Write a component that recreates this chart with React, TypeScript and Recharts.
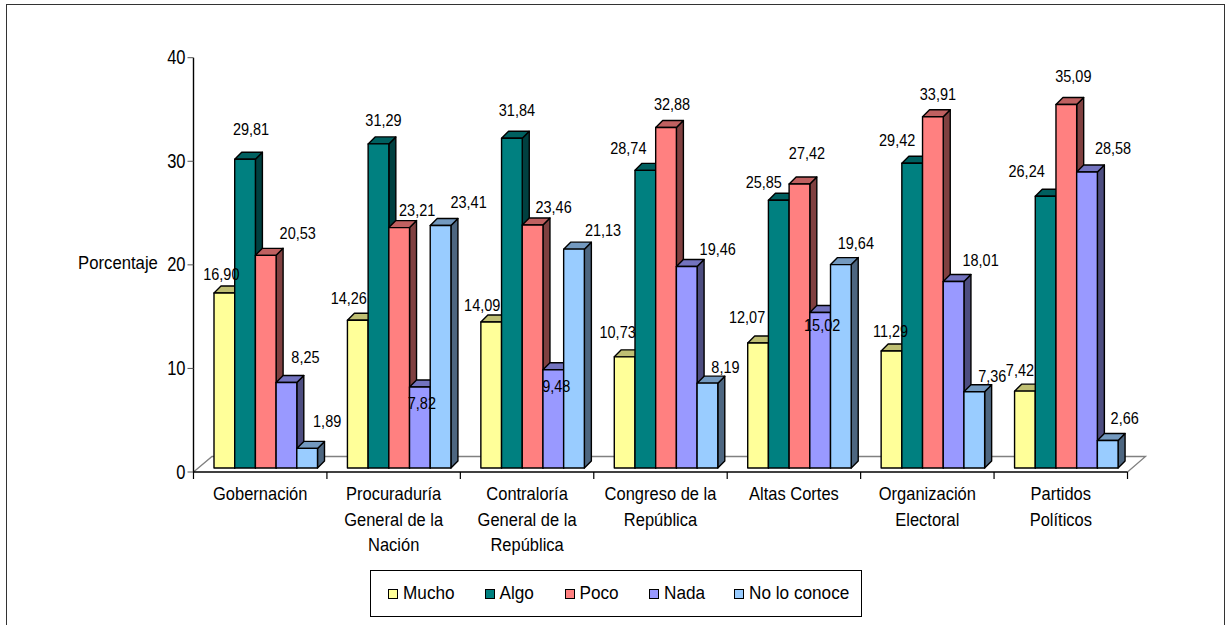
import { BarChart, Bar, XAxis, YAxis, Legend, LabelList, Label } from 'recharts'

const categories = [
  ['Gobernación'],
  ['Procuraduría', 'General de la', 'Nación'],
  ['Contraloría', 'General de la', 'República'],
  ['Congreso de la', 'República'],
  ['Altas Cortes'],
  ['Organización', 'Electoral'],
  ['Partidos', 'Políticos'],
]
const mucho = [16.9, 14.26, 14.09, 10.73, 12.07, 11.29, 7.42]
const algo = [29.81, 31.29, 31.84, 28.74, 25.85, 29.42, 26.24]
const poco = [20.53, 23.21, 23.46, 32.88, 27.42, 33.91, 35.09]
const nada = [8.25, 7.82, 9.48, 19.46, 15.02, 18.01, 28.58]
const noConoce = [1.89, 23.41, 21.13, 8.19, 19.64, 7.36, 2.66]
const yTicks = [0, 10, 20, 30, 40]

const data = categories.map((lines, i) => ({
  name: lines.join(' '),
  mucho: mucho[i],
  algo: algo[i],
  poco: poco[i],
  nada: nada[i],
  noConoce: noConoce[i],
}))

// label nudges from the top of each bar, the original has them moved around by hand
const nudges: Record<string, number[][]> = {
  mucho: [[-3, -19], [-9, -22], [-9, -17], [-7, -25], [-11, -26], [-1, -20], [-5, -21]],
  algo: [[6, -30], [5, -24], [5, -28], [-17, -22], [-15, -18], [-15, -23], [-19, -25]],
  poco: [[32, -22], [18, -18], [21, -18], [6, -23], [7.5, -31], [5, -23], [7, -28.5]],
  nada: [[19, -25], [2, 16], [3, 16], [31, -17], [2, 13], [27, -21], [26, -24]],
  noConoce: [[20, -27], [28, -23.5], [29, -19], [18, -16], [15, -22], [18, -16], [17, -22]],
}

const series = [
  { key: 'mucho', name: 'Mucho', fill: '#FFFF99', top: '#BFBF73', side: '#80804D' },
  { key: 'algo', name: 'Algo', fill: '#008080', top: '#006060', side: '#004040' },
  { key: 'poco', name: 'Poco', fill: '#FF8080', top: '#BF6060', side: '#804040' },
  { key: 'nada', name: 'Nada', fill: '#9999FF', top: '#7373BF', side: '#4D4D80' },
  { key: 'noConoce', name: 'No lo conoce', fill: '#99CCFF', top: '#7399BF', side: '#4D6680' },
]
const legendWidths = [96.5, 80, 84.5, 85, 120]

const BAND = 133.45
const SHIFT_X = 5.5
const SHIFT_Y = -4
const DEPTH = 7

// the original text is a bit taller than it is wide
function Tall({ x, y, size, sy, anchor = 'middle', children }: any) {
  return (
    <text
      transform={`translate(${x},${y}) scale(1,${sy})`}
      textAnchor={anchor}
      dominantBaseline="central"
      fontSize={size}
      fill="#000"
    >
      {children}
    </text>
  )
}

function Bar3D(props: any, top: string, side: string) {
  const x = props.x + SHIFT_X
  const y = props.y + SHIFT_Y
  const { width: w, height: h, fill } = props
  return (
    <g stroke="#000" strokeWidth={1.4} strokeLinejoin="round">
      <path d={`M${x + w},${y} l${DEPTH},${-DEPTH} v${h} l${-DEPTH},${DEPTH} z`} fill={side} />
      <path d={`M${x},${y} l${DEPTH},${-DEPTH} h${w} l${-DEPTH},${DEPTH} z`} fill={top} />
      <rect x={x} y={y} width={w} height={h} fill={fill} />
    </g>
  )
}

function ValueLabel(props: any, key: string) {
  const { x, y, width, value, index } = props
  const [dx, dy] = nudges[key][index]
  return (
    <Tall x={x + width / 2 + SHIFT_X + dx} y={y + SHIFT_Y + dy} size={14.5} sy={1.18}>
      {value.toFixed(2).replace('.', ',')}
    </Tall>
  )
}

function CategoryTick({ x, y, index }: any) {
  const lines = categories[index]
  const left = x - BAND / 2
  return (
    <g>
      <line x1={left} x2={left} y1={472} y2={479} stroke="#000" strokeWidth={1.2} />
      {index === categories.length - 1 && (
        <line x1={left + BAND} x2={left + BAND} y1={472} y2={479} stroke="#000" strokeWidth={1.2} />
      )}
      {lines.map((l, i) => (
        <Tall key={i} x={x} y={y + 14 + i * 25.5} size={16.5} sy={1.12}>
          {l}
        </Tall>
      ))}
    </g>
  )
}

function ValueTick({ x, y, payload }: any) {
  return (
    <Tall x={x} y={y} size={16.5} sy={1.2} anchor="end">
      {payload.value}
    </Tall>
  )
}

function ChartLegend() {
  return (
    <div style={{ width: 492, height: 47, border: '1.5px solid #000', display: 'flex', alignItems: 'center', paddingLeft: 17, boxSizing: 'border-box' }}>
      {series.map((s, i) => (
        <div key={s.key} style={{ width: legendWidths[i], flex: 'none', display: 'flex', alignItems: 'center', fontSize: 17.2, whiteSpace: 'nowrap' }}>
          <span style={{ width: 8, height: 8, background: s.fill, border: '1.5px solid #000', marginRight: 5 }} />
          <span style={{ display: 'inline-block', transform: 'scaleY(1.05)' }}>{s.name}</span>
        </div>
      ))}
    </div>
  )
}

export default function App() {
  return (
    <div style={{ position: 'absolute', left: 0, top: 0, width: 1230, height: 625, overflow: 'hidden', background: '#fff', fontFamily: '"Liberation Sans", Arial, sans-serif' }}>
      <div style={{ position: 'absolute', left: 6, top: 4, width: 1217, height: 640, border: '1.5px solid #333' }} />
      <BarChart
        width={1230}
        height={625}
        data={data}
        barSize={20.7}
        barGap={0}
        margin={{ top: 57.7, right: 102.5, bottom: 36, left: 133.5 }}
        style={{ position: 'absolute', left: 0, top: 0 }}
      >
        <path d="M193.5,472 L212,456.5 H1145.5 L1127.5,472" fill="none" stroke="#808080" strokeWidth={1.3} />
        <YAxis
          width={60}
          domain={[0, 40]}
          ticks={yTicks}
          interval={0}
          tick={<ValueTick />}
          tickSize={6}
          tickLine={{ stroke: '#555' }}
          axisLine={{ stroke: '#000', strokeWidth: 1.4 }}
        >
          <Label
            content={() => (
              <Tall x={118} y={263} size={16.7} sy={1.12}>
                Porcentaje
              </Tall>
            )}
          />
        </YAxis>
        <XAxis
          dataKey="name"
          height={70}
          interval={0}
          tickLine={false}
          tick={<CategoryTick />}
          axisLine={{ stroke: '#000', strokeWidth: 1.4 }}
        />
        <Legend
          verticalAlign="bottom"
          height={47}
          width={492}
          content={<ChartLegend />}
          wrapperStyle={{ left: 370, top: 570, bottom: 'auto' }}
        />
        {series.map((s) => (
          <Bar
            key={s.key}
            dataKey={s.key}
            name={s.name}
            fill={s.fill}
            isAnimationActive={false}
            shape={(p: any) => Bar3D(p, s.top, s.side)}
          >
            <LabelList dataKey={s.key} content={(p: any) => ValueLabel(p, s.key)} />
          </Bar>
        ))}
      </BarChart>
    </div>
  )
}
